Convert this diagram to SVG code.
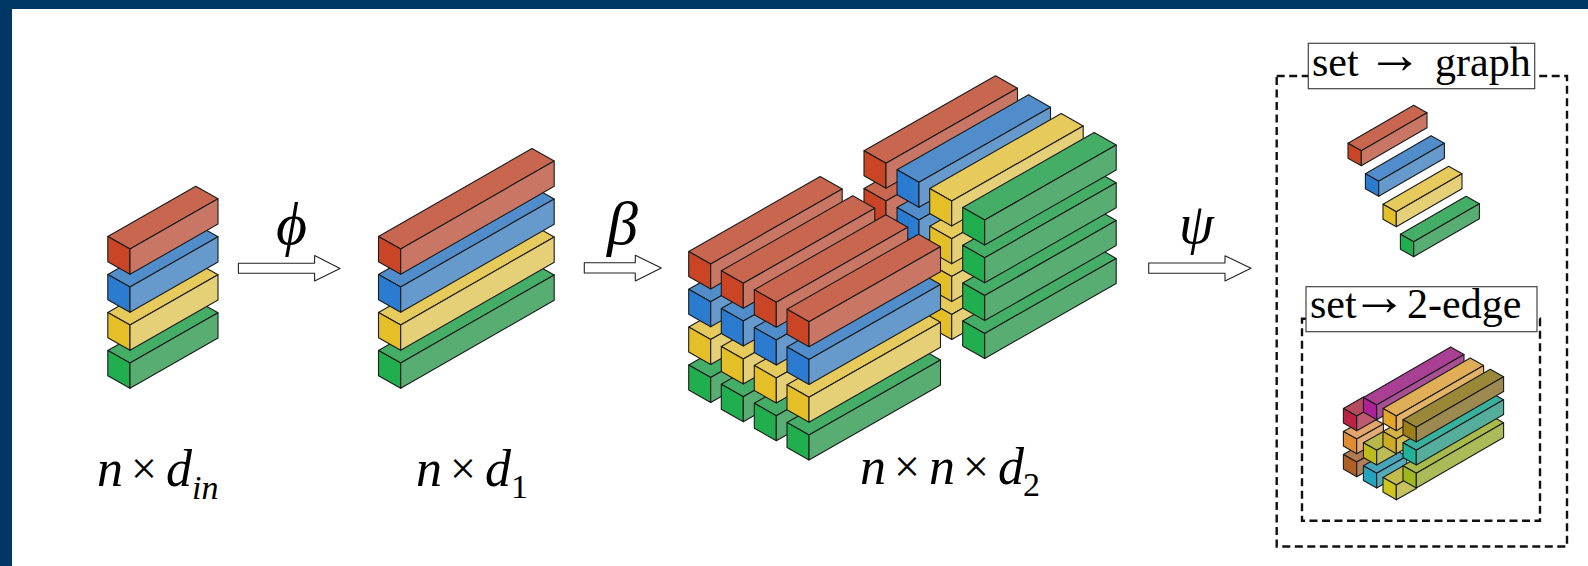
<svg xmlns="http://www.w3.org/2000/svg" width="1588" height="566" viewBox="0 0 1588 566">
<style>
.t{fill:var(--t)}.l{fill:var(--l)}.r{fill:var(--r)}
polygon{stroke:#1c1c1c;stroke-width:1.1;stroke-linejoin:round}
.red{--t:#c8664f;--l:#c94526;--r:#c97764}
.blue{--t:#518dca;--l:#2b7bd0;--r:#6699cc}
.yel{--t:#e6ca5c;--l:#e5bf28;--r:#e5d077}
.grn{--t:#44ae66;--l:#21ae4e;--r:#57ad72}
.c1{--t:#b84a5f;--l:#bb2344;--r:#bd5a70}
.c2{--t:#e5a56a;--l:#e08c32;--r:#e4ac74}
.c3{--t:#b17a50;--l:#b06024;--r:#b37e5c}
.c4{--t:#a94093;--l:#ad2096;--r:#a84f96}
.c5{--t:#b7b94a;--l:#bcbc1e;--r:#bcbb56}
.c6{--t:#46a5ba;--l:#25a3bc;--r:#52aabb}
.c7{--t:#c3bb4c;--l:#cdc61e;--r:#c8c25e}
.c8{--t:#d4b345;--l:#ceaa25;--r:#d6ba55}
.c9{--t:#dfae57;--l:#e4a52b;--r:#e3b468}
.c10{--t:#a8bb4a;--l:#a0b820;--r:#aabb58}
.c11{--t:#37b09c;--l:#1eb296;--r:#55ae9c}
.c12{--t:#9a8738;--l:#9c7f18;--r:#9c8a50}
.dash{fill:none;stroke:#111;stroke-width:2.4;stroke-dasharray:8 4.5}
.lbl{fill:#fff;stroke:#444;stroke-width:1.2}
.arrow{fill:#fff;stroke:#222;stroke-width:1.1}
text{font-family:"Liberation Serif","Times New Roman",serif;fill:#000}
.m{font-style:italic;font-size:52px}
.x{font-size:46px}
.s{font-size:34px}
.g{font-style:italic;font-size:60px}
.b{font-size:42px}
.ar{font-size:56px}
</style>
<defs>
<g id="a"><polygon class="t" points="0,0 -22.2,-12.6 65.8,-62.8 88,-50.2"/><polygon class="l" points="0,0 -22.2,-12.6 -22.2,12.7 0,25.3"/><polygon class="r" points="0,0 88,-50.2 88,-24.9 0,25.3"/></g>
<g id="b"><polygon class="t" points="0,0 -22.2,-12.6 131.3,-100.6 153.5,-88"/><polygon class="l" points="0,0 -22.2,-12.6 -22.2,12.7 0,25.3"/><polygon class="r" points="0,0 153.5,-88 153.5,-62.7 0,25.3"/></g>
<g id="c"><polygon class="t" points="0,0 -22,-12.5 109.5,-87.5 131.5,-75"/><polygon class="l" points="0,0 -22,-12.5 -22,12.5 0,25"/><polygon class="r" points="0,0 131.5,-75 131.5,-50 0,25"/></g>
<g id="d"><polygon class="t" points="0,0 -13.3,-7.5 52.4,-45.5 65.7,-38"/><polygon class="l" points="0,0 -13.3,-7.5 -13.3,7.5 0,15"/><polygon class="r" points="0,0 65.7,-38 65.7,-23 0,15"/></g>
<g id="e"><polygon class="t" points="0,0 -13.3,-7.6 74,-58.1 87.3,-50.5"/><polygon class="l" points="0,0 -13.3,-7.6 -13.3,7.1 0,14.7"/><polygon class="r" points="0,0 87.3,-50.5 87.3,-35.8 0,14.7"/></g>
<g id="f"><polygon class="t" points="0,0 -13.3,-7.6 6.7,-18.9 20,-11.3"/><polygon class="l" points="0,0 -13.3,-7.6 -13.3,7.1 0,14.7"/><polygon class="r" points="0,0 20,-11.3 20,3.4 0,14.7"/></g>
<g id="h"><polygon class="t" points="0,0 -13.3,-7.6 13.4,-22.6 26.7,-15"/><polygon class="l" points="0,0 -13.3,-7.6 -13.3,7.1 0,14.7"/><polygon class="r" points="0,0 26.7,-15 26.7,-.3 0,14.7"/></g>
<g id="i"><polygon class="t" points="0,0 -13.3,-7.6 16.7,-24.6 30,-17"/><polygon class="l" points="0,0 -13.3,-7.6 -13.3,7.1 0,14.7"/><polygon class="r" points="0,0 30,-17 30,-2.3 0,14.7"/></g>
</defs>
<rect width="1588" height="566" fill="#fff"/>
<g id="frame"><rect width="1588" height="9" fill="#003764"/><rect width="12" height="566" fill="#003764"/></g>
<g id="stack-in">
<use href="#a" class="grn" x="130" y="363"/><use href="#a" class="yel" x="130" y="325"/><use href="#a" class="blue" x="130" y="287"/><use href="#a" class="red" x="130" y="249"/>
</g>
<g id="stack-d1">
<use href="#b" class="grn" x="400.7" y="363"/><use href="#b" class="yel" x="400.7" y="325"/><use href="#b" class="blue" x="400.7" y="287"/><use href="#b" class="red" x="400.7" y="249"/>
</g>
<g id="cube-d2">
<use href="#c" class="red" x="886" y="276.7"/><use href="#c" class="red" x="886" y="238.9"/><use href="#c" class="red" x="886" y="201.1"/><use href="#c" class="red" x="886" y="163.3"/>
<use href="#c" class="blue" x="919" y="295.7"/><use href="#c" class="blue" x="919" y="257.9"/><use href="#c" class="blue" x="919" y="220.1"/><use href="#c" class="blue" x="919" y="182.3"/>
<use href="#c" class="yel" x="951.7" y="314.4"/><use href="#c" class="yel" x="951.7" y="276.6"/><use href="#c" class="yel" x="951.7" y="238.8"/><use href="#c" class="yel" x="951.7" y="201"/>
<use href="#c" class="grn" x="984.7" y="333.4"/><use href="#c" class="grn" x="984.7" y="295.6"/><use href="#c" class="grn" x="984.7" y="257.8"/><use href="#c" class="grn" x="984.7" y="220"/>
<use href="#c" class="grn" x="710.7" y="377.4"/><use href="#c" class="yel" x="710.7" y="339.6"/><use href="#c" class="blue" x="710.7" y="301.8"/><use href="#c" class="red" x="710.7" y="264"/>
<use href="#c" class="grn" x="743.3" y="396.7"/><use href="#c" class="yel" x="743.3" y="358.9"/><use href="#c" class="blue" x="743.3" y="321.1"/><use href="#c" class="red" x="743.3" y="283.3"/>
<use href="#c" class="grn" x="776.3" y="415.7"/><use href="#c" class="yel" x="776.3" y="377.9"/><use href="#c" class="blue" x="776.3" y="340.1"/><use href="#c" class="red" x="776.3" y="302.3"/>
<use href="#c" class="grn" x="809" y="435.1"/><use href="#c" class="yel" x="809" y="397.3"/><use href="#c" class="blue" x="809" y="359.5"/><use href="#c" class="red" x="809" y="321.7"/>
</g>
<g id="connectors">
<polygon class="arrow" points="238.4,263.2 314.6,263.2 314.6,255.6 340,268.6 314.6,281 314.6,273.3 238.4,273.3"/>
<polygon class="arrow" points="584.3,262.7 635.3,262.7 635.3,255.3 661.3,268 635.3,281 635.3,273 584.3,273"/>
<polygon class="arrow" points="1148.7,263 1225,263 1225,255.7 1251,268.3 1225,281 1225,273.3 1148.7,273.3"/>
</g>
<g id="outer-box"><rect class="dash" x="1276.7" y="76" width="290.3" height="470.5"/></g>
<g id="label-graph"><rect class="lbl" x="1308.3" y="43.3" width="226.4" height="45.4"/>
<text class="b" y="75.7"><tspan x="1312">set</tspan><tspan class="ar" x="1366.5" y="73">→</tspan><tspan x="1435" y="75.7">graph</tspan></text></g>
<g id="set-graph">
<use href="#d" class="red" x="1361.3" y="150.7"/><use href="#d" class="blue" x="1378.7" y="181.3"/><use href="#d" class="yel" x="1396.3" y="211.7"/><use href="#d" class="grn" x="1413.7" y="241.7"/>
</g>
<g id="inner-box"><rect class="dash" x="1302" y="318.7" width="238" height="202"/></g>
<g id="label-edge"><rect class="lbl" x="1306" y="286.7" width="231" height="45"/>
<text class="b" y="317.7"><tspan x="1310">set</tspan><tspan class="ar" x="1351" y="315">→</tspan><tspan x="1407" y="317.7">2-edge</tspan></text></g>
<g id="set-edge">
<use href="#f" class="c3" x="1356.7" y="462"/><use href="#h" class="c2" x="1356.7" y="439"/><use href="#f" class="c1" x="1356.7" y="416"/><use href="#e" class="c4" x="1376.7" y="405"/>
<use href="#i" class="c6" x="1376.7" y="473.3"/><use href="#f" class="c5" x="1376.7" y="450.3"/>
<use href="#f" class="c7" x="1396.3" y="485"/><use href="#f" class="c8" x="1396.3" y="439"/><use href="#e" class="c9" x="1396.3" y="416"/>
<use href="#e" class="c10" x="1416.3" y="473.3"/><use href="#e" class="c11" x="1416.3" y="450.3"/><use href="#e" class="c12" x="1416.3" y="427.3"/>
</g>
<g id="labels">
<text class="g" x="276" y="244">ϕ</text>
<text class="g" x="607" y="244" style="font-size:62px">β</text>
<text class="g" x="1179" y="243" style="font-size:56px">ψ</text>
<text y="486"><tspan class="m" x="97">n</tspan><tspan class="x" x="131" y="484">×</tspan><tspan class="m" x="166" y="486">d</tspan><tspan class="s" font-style="italic" x="192" y="499">in</tspan></text>
<text y="486"><tspan class="m" x="416">n</tspan><tspan class="x" x="450" y="484">×</tspan><tspan class="m" x="485" y="486">d</tspan><tspan class="s" x="511" y="498">1</tspan></text>
<text y="484"><tspan class="m" x="860">n</tspan><tspan class="x" x="894" y="482">×</tspan><tspan class="m" x="929" y="484">n</tspan><tspan class="x" x="963" y="482">×</tspan><tspan class="m" x="998" y="484">d</tspan><tspan class="s" x="1023" y="496">2</tspan></text>
</g>
</svg>
